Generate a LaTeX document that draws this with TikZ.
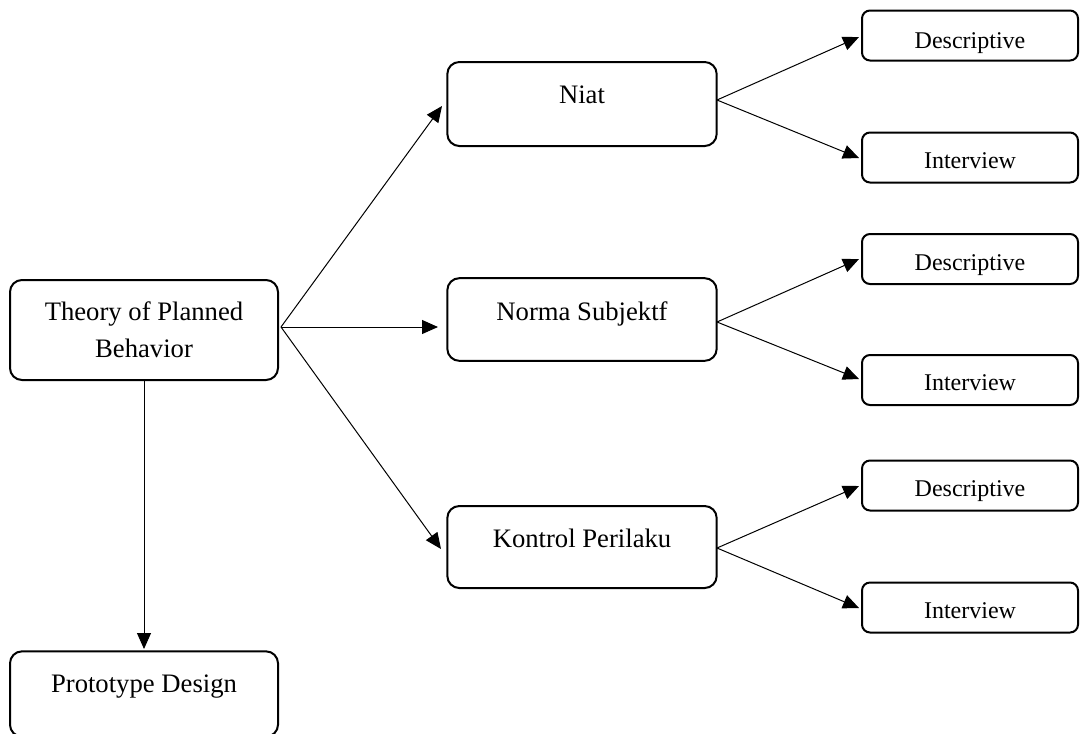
\documentclass[tikz,border=0pt]{standalone}
\usepackage{fontspec}
\setmainfont{Liberation Serif}
\usetikzlibrary{arrows.meta}
\begin{document}
\begin{tikzpicture}[x=0.75pt,y=-0.75pt,
  bigbox/.style={draw, line width=1.5pt, rounded corners=9pt, inner sep=0pt},
  smallbox/.style={draw, line width=1.5pt, rounded corners=6pt, inner sep=0pt, minimum width=162pt, minimum height=37.5pt},
  bigtxt/.style={anchor=base, inner sep=0pt, font=\fontsize{20}{24}\selectfont},
  smalltxt/.style={anchor=base, inner sep=0pt, font=\fontsize{18}{21}\selectfont},
  arr/.style={line width=0.75pt, -{Triangle[length=12pt,width=10.5pt]}}]
\useasboundingbox (0,0) rectangle (1080,733);
% main boxes
\node[bigbox, minimum width=201pt, minimum height=75pt] (tpb) at (144,330) {};
\node[bigtxt] (tpbt1) at (144,320) {Theory of Planned};
\node[bigtxt] (tpbt2) at (144,357) {Behavior};
\node[bigbox, minimum width=201pt, minimum height=64pt] (proto) at (144,694) {};
\node[bigtxt] (protot) at (144,692) {Prototype Design};
\node[bigbox, minimum width=202pt, minimum height=63pt] (niat) at (582,104) {};
\node[bigtxt] (niatt) at (582,103) {Niat};
\node[bigbox, minimum width=202pt, minimum height=62pt] (norma) at (582,319.5) {};
\node[bigtxt] (normat) at (582,320) {Norma Subjektf};
\node[bigbox, minimum width=202pt, minimum height=61.5pt] (kontrol) at (582,547) {};
\node[bigtxt] (kontrolt) at (582,547) {Kontrol Perilaku};
% small boxes
\node[smallbox] (d1) at (970,35.5) {};
\node[smalltxt] (d1t) at (970,48) {Descriptive};
\node[smallbox] (i1) at (970,157.5) {};
\node[smalltxt] (i1t) at (970,168) {Interview};
\node[smallbox] (d2) at (970,259) {};
\node[smalltxt] (d2t) at (970,270) {Descriptive};
\node[smallbox] (i2) at (970,380) {};
\node[smalltxt] (i2t) at (970,390) {Interview};
\node[smallbox] (d3) at (970,485.5) {};
\node[smalltxt] (d3t) at (970,496) {Descriptive};
\node[smallbox] (i3) at (970,607.5) {};
\node[smalltxt] (i3t) at (970,618) {Interview};
% connector anchors
\coordinate (tpbR) at (281,327);
\coordinate (niatR) at (717,100);
\coordinate (normaR) at (717,322);
\coordinate (kontrolR) at (717,548);
\coordinate (niatL) at (442,106);
\coordinate (normaL) at (438,327);
\coordinate (kontrolL) at (441,549);
\coordinate (tpbB) at (144,381);
\coordinate (protoT) at (144,649);
\coordinate (d1L) at (859,37);
\coordinate (i1L) at (859,158);
\coordinate (d2L) at (859,259);
\coordinate (i2L) at (859,379);
\coordinate (d3L) at (859,486);
\coordinate (i3L) at (859,608);
\draw[arr] (tpbR) -- (niatL);
\draw[arr] (tpbR) -- (normaL);
\draw[arr] (tpbR) -- (kontrolL);
\draw[arr] (tpbB) -- (protoT);
\draw[arr] (niatR) -- (d1L);
\draw[arr] (niatR) -- (i1L);
\draw[arr] (normaR) -- (d2L);
\draw[arr] (normaR) -- (i2L);
\draw[arr] (kontrolR) -- (d3L);
\draw[arr] (kontrolR) -- (i3L);
\end{tikzpicture}
\end{document}
